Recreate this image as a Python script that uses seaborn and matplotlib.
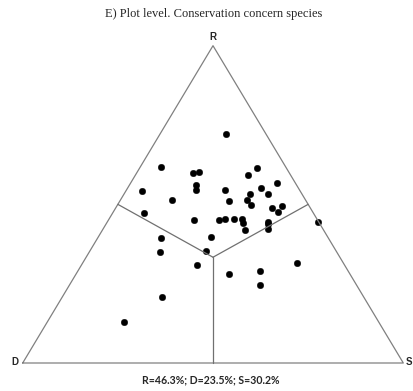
import matplotlib
matplotlib.use("Agg")
import matplotlib.pyplot as plt
import seaborn as sns
import numpy as np
import pandas as pd

# Ternary compositions (percent) of each plot: R, S; D = 100 - R - S
R_pct = [72.3, 61.7, 60.0, 60.1, 61.5, 59.3, 56.1, 54.6, 56.6, 54.3,
         54.5, 55.1, 53.4, 53.2, 51.3, 51.1, 51.3, 49.9, 48.9, 49.4,
         47.5, 47.3, 45.1, 45.2, 45.3, 45.4, 45.4, 44.2, 44.5, 43.7,
         42.2, 41.9, 44.4, 39.3, 39.6, 35.0, 35.3, 31.0, 28.1, 29.1,
         31.4, 24.6, 20.9, 13.0]
S_pct = [17.3, 5.6, 14.7, 16.2, 30.8, 29.5, 17.6, 18.2, 38.4, 4.1,
         26.0, 35.0, 32.9, 37.8, 13.6, 28.7, 33.3, 35.1, 41.1, 43.3,
         43.4, 8.1, 22.4, 29.0, 30.5, 32.7, 35.0, 35.8, 42.3, 42.7,
         43.4, 37.4, 55.4, 16.8, 29.7, 18.5, 30.5, 30.4, 40.2, 47.7,
         56.3, 50.1, 26.2, 20.0]
D_pct = [100 - r - s for r, s in zip(R_pct, S_pct)]

title = "E) Plot level. Conservation concern species"
summary = "R=46.3%; D=23.5%; S=30.2%"
vertex_labels = ["R", "D", "S"]

df = pd.DataFrame({"R": R_pct, "D": D_pct, "S": S_pct})
df["x"] = df["S"] / 100 + 0.5 * df["R"] / 100
df["y"] = df["R"] / 100

W, H = 413, 391
fig = plt.figure(figsize=(W / 100, H / 100), dpi=100)
sns.set_style("white")
# pixel geometry of the triangle
xl, xr, yb, yt = 22.7, 403.3, 363.0, 45.7
ax = fig.add_axes([xl / W, (H - yb) / H, (xr - xl) / W, (yb - yt) / H])
ax.set_xlim(0, 1)
ax.set_ylim(0, 1)
ax.axis("off")

# triangle outline
tri_x = [0, 1, 0.5, 0]
tri_y = [0, 0, 1, 0]
ax.plot(tri_x, tri_y, color="#808080", lw=0.9, clip_on=False)
# inner dividing lines from centroid to side midpoints
cx, cy = 0.5, 1 / 3
for mx, my in [(0.25, 0.5), (0.75, 0.5), (0.5, 0.0)]:
    ax.plot([cx, mx], [cy, my], color="#707070", lw=0.9, clip_on=False)

sns.scatterplot(data=df, x="x", y="y", ax=ax, color="black", s=22,
                edgecolor="black", linewidth=0.3, legend=False, clip_on=False)

fig.text(213.3 / W, 1 - 37 / H, vertex_labels[0], ha="center", va="center",
         fontsize=7, fontweight="bold", family="Liberation Sans")
fig.text(15 / W, 1 - 362 / H, vertex_labels[1], ha="center", va="center",
         fontsize=7, fontweight="bold", family="Liberation Sans")
fig.text(405.5 / W, 1 - 362 / H, vertex_labels[2], ha="left", va="center",
         fontsize=7, fontweight="bold", family="Liberation Sans")

fig.text(213.5 / W, 1 - 14 / H, title, ha="center", va="center",
         fontsize=9, family="Liberation Serif")
fig.text(211 / W, 1 - 380 / H, summary, ha="center", va="center",
         fontsize=7.6, fontweight="bold", family="Lato")

fig.savefig("out.png", dpi=100)
